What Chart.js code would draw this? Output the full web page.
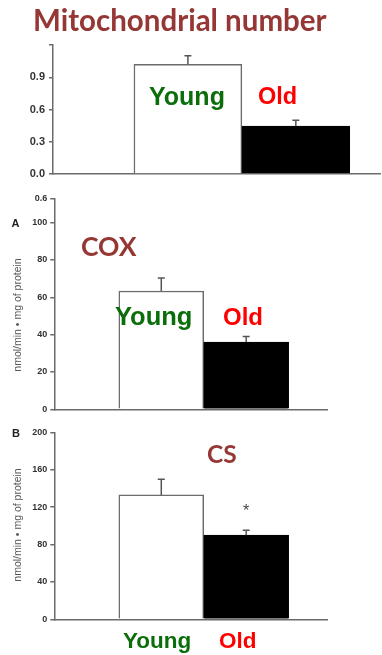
<!DOCTYPE html>
<html>
<head>
<meta charset="utf-8">
<script src="https://cdn.jsdelivr.net/npm/chart.js@4.4.1/dist/chart.umd.min.js"></script>
<style>
  body { margin: 0; width: 382px; height: 655px; background: #fff; position: relative; overflow: hidden; font-family: 'Liberation Sans', Arial, sans-serif; }
  canvas { position: absolute; left: 0; }
  .lbl { position: absolute; white-space: nowrap; }
  .ytitle { position: absolute; left: 17px; white-space: nowrap; font: 10.5px 'Liberation Sans', Arial, sans-serif; color: #555; transform: translate(-50%, -50%) rotate(-90deg); }
</style>
</head>
<body>
<canvas id="mito" width="382" height="190" style="top:0"></canvas>
<canvas id="cox" width="382" height="230" style="top:190px"></canvas>
<canvas id="cs" width="382" height="235" style="top:420px"></canvas>
<div class="ytitle" id="coxUnit" style="top:315px"></div>
<div class="ytitle" id="csUnit" style="top:525px"></div>
<script>
// data
const groups = ['Young', 'Old'];

const mitoValues = [1.02, 0.445];
const mitoErrors = [0.08, 0.055];
const mitoTicks = [0, 0.3, 0.6, 0.9, 1.2];

const coxValues = [63.4, 36];
const coxErrors = [7, 3];
const coxTicks = [0, 20, 40, 60, 80, 100];
const coxStubLabel = '0.6'; // leftover label at the top of panel A

const csValues = [133, 90];
const csErrors = [16.7, 5.2];
const csTicks = [0, 40, 80, 120, 160, 200];
const csMarks = ['', '*'];

const yUnit = 'nmol/min \u2022 mg of protein';

const axisColor = '#6b6b6b';

// error bars + significance marks
const errorBarPlugin = {
    id: 'errorBars',
    afterDatasetsDraw(chart, args, opts) {
        const ctx = chart.ctx;
        const y = chart.scales.y;
        const ds = chart.data.datasets[0];
        ctx.save();
        ctx.strokeStyle = '#555';
        ctx.lineWidth = 1.5;
        chart.getDatasetMeta(0).data.forEach((bar, i) => {
            const top = y.getPixelForValue(ds.data[i].y + opts.errors[i]);
            ctx.beginPath();
            ctx.moveTo(bar.x, bar.y);
            ctx.lineTo(bar.x, top);
            ctx.moveTo(bar.x - 3.5, top);
            ctx.lineTo(bar.x + 3.5, top);
            ctx.stroke();
            const mark = opts.marks ? opts.marks[i] : '';
            if (mark) {
                ctx.fillStyle = '#444';
                ctx.font = '16px "Liberation Sans", Arial';
                ctx.textAlign = 'center';
                ctx.textBaseline = 'alphabetic';
                ctx.fillText(mark, bar.x, top - 14);
            }
        });
        ctx.restore();
    }
};

function makePanel(id, p) {
    new Chart(document.getElementById(id), {
        type: 'bar',
        data: {
            datasets: [{
                label: groups.join(' / '),
                data: p.values.map((v, i) => ({ x: i + p.firstBar, y: v })),
                backgroundColor: ['#ffffff', '#000000'],
                borderColor: [axisColor, '#000000'],
                borderWidth: 1.5,
                barPercentage: 1,
                categoryPercentage: 1
            }]
        },
        options: {
            responsive: false,
            animation: false,
            events: [],
            layout: { padding: p.padding },
            plugins: {
                legend: { display: false },
                tooltip: { enabled: false },
                errorBars: { errors: p.errors, marks: p.marks }
            },
            scales: {
                x: {
                    type: 'linear',
                    min: 0,
                    max: p.xMax,
                    offset: false,
                    afterBuildTicks: s => { s.ticks = []; },
                    afterFit: s => { s.height = 0; },
                    grid: { display: false },
                    border: { display: true, color: axisColor, width: 1.5 },
                    ticks: { display: false }
                },
                y: {
                    min: 0,
                    max: p.yMax,
                    afterBuildTicks: s => { s.ticks = p.ticks.map(v => ({ value: v })); },
                    afterFit: s => { s.width = p.axisWidth; },
                    grid: { drawOnChartArea: false, drawTicks: true, tickLength: 4, color: axisColor, lineWidth: 1.5 },
                    border: { display: true, color: axisColor, width: 1.5 },
                    ticks: {
                        color: '#333',
                        padding: p.tickPad,
                        font: { family: "'Liberation Sans', Arial", size: p.tickSize, weight: 'bold' },
                        callback: p.format
                    }
                }
            }
        },
        plugins: [errorBarPlugin]
    });
}

makePanel('mito', {
    values: mitoValues, errors: mitoErrors,
    ticks: mitoTicks, yMax: 1.2,
    format: v => (v === 1.2 ? '' : v.toFixed(1)),
    firstBar: 1.25, xMax: 3.03,
    padding: { top: 45, bottom: 16, left: 0, right: 2 },
    axisWidth: 53, tickSize: 11, tickPad: 4
});

makePanel('cox', {
    values: coxValues, errors: coxErrors,
    ticks: coxTicks.concat([113]), yMax: 113,
    format: v => (v > 100 ? coxStubLabel : String(v)),
    firstBar: 1.26, xMax: 3.22,
    padding: { top: 8, bottom: 10.7, left: 0, right: 54.3 },
    axisWidth: 54.3, tickSize: 9, tickPad: 3
});

makePanel('cs', {
    values: csValues, errors: csErrors, marks: csMarks,
    ticks: csTicks, yMax: 200,
    format: v => String(v),
    firstBar: 1.26, xMax: 3.22,
    padding: { top: 12.3, bottom: 35.7, left: 0, right: 54.3 },
    axisWidth: 54.3, tickSize: 9, tickPad: 3
});

document.getElementById('coxUnit').textContent = yUnit;
document.getElementById('csUnit').textContent = yUnit;

// text placed by baseline: [text, left, baseline, font, color]
const green = '#0b6e0b';
const red = '#ff0000';
const heading = '#953735';
const texts = [
    ['Mitochondrial number', 33, 30.5, 'bold 29.5px Lato', heading],
    [groups[0], 149, 105, "bold 25px 'Liberation Sans'", green],
    [groups[1], 258, 104, "bold 23.5px 'Liberation Sans'", red],
    ['A', 11.5, 227.3, "bold 11px 'Liberation Sans'", '#222'],
    ['COX', 81, 256, 'bold 26.5px Lato', heading],
    [groups[0], 115, 325, "bold 25.5px 'Liberation Sans'", green],
    [groups[1], 223, 325, "bold 24px 'Liberation Sans'", red],
    ['B', 12, 436.7, "bold 11px 'Liberation Sans'", '#222'],
    ['CS', 207, 463.3, 'bold 24.5px Lato', heading],
    [groups[0], 123, 648.3, "bold 22.5px 'Liberation Sans'", green],
    [groups[1], 219, 648.3, "bold 22.5px 'Liberation Sans'", red]
];

const measure = document.createElement('canvas').getContext('2d');
texts.forEach(([text, left, base, font, color]) => {
    measure.font = font;
    const m = measure.measureText(text);
    const el = document.createElement('div');
    el.className = 'lbl';
    el.textContent = text;
    el.style.font = font;
    el.style.lineHeight = (m.fontBoundingBoxAscent + m.fontBoundingBoxDescent) + 'px';
    el.style.left = left + 'px';
    el.style.top = (base - m.fontBoundingBoxAscent) + 'px';
    el.style.color = color;
    document.body.appendChild(el);
});
</script>
</body>
</html>
